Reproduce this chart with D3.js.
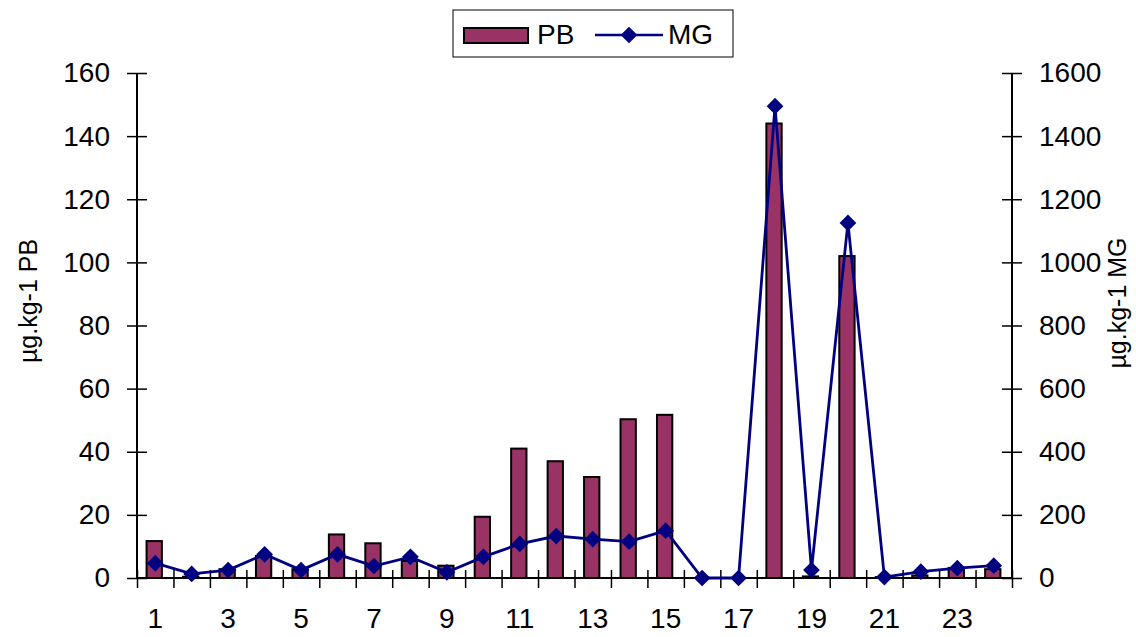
<!DOCTYPE html>
<html><head><meta charset="utf-8">
<script src="https://cdn.jsdelivr.net/npm/d3@7"></script>
<style>body{margin:0;background:#fff}svg{display:block}text{font-family:"Liberation Sans",Arial,sans-serif;fill:#000}</style>
</head><body>
<svg id="c" width="1136" height="637"></svg>
<script>
const categories = d3.range(1, 25);
const pbValues = [11.7, 0.4, 2.8, 7.0, 2.8, 13.8, 11.0, 5.4, 3.9, 19.4, 41.0, 37.0, 32.0, 50.3, 51.7, 0, 0, 144.0, 0.5, 102.0, 0.3, 0.8, 3.2, 2.8];
const mgValues = [47, 13, 25, 75, 25, 75, 38, 67, 18, 67, 108, 133, 123, 115, 150, 0, 0, 1495, 25, 1125, 3, 20, 31, 39];
const leftTicks = [0, 20, 40, 60, 80, 100, 120, 140, 160];
const rightTicks = [0, 200, 400, 600, 800, 1000, 1200, 1400, 1600];
const xLabelCats = [1, 3, 5, 7, 9, 11, 13, 15, 17, 19, 21, 23];
const seriesNames = ["PB", "MG"];
const axisTitles = ["µg.kg-1 PB", "µg.kg-1 MG"];

const L = 137, R = 1012, T = 73, B = 578;
const barColor = "#993366", lineColor = "#000080";
const svg = d3.select("#c");

const xBand = d3.scaleBand().domain(categories).range([L, R]);
const xEdge = d3.scaleLinear().domain([0, categories.length]).range([L, R]);
const yL = d3.scaleLinear().domain([0, 160]).range([B, T]);
const yR = d3.scaleLinear().domain([0, 1600]).range([B, T]);
const fs = 28;

// bars
const bw = xBand.bandwidth() * 0.42;
svg.append("g").selectAll("rect").data(pbValues).join("rect")
  .attr("x", (d, i) => xBand(categories[i]) + xBand.bandwidth() / 2 - bw / 2 - 1)
  .attr("y", d => yL(d))
  .attr("width", bw)
  .attr("height", d => B - yL(d))
  .attr("fill", barColor).attr("stroke", "#000").attr("stroke-width", 2);

// axes
function styleAxis(g) {
  g.select(".domain").remove();
  g.selectAll("line").attr("stroke", "#000").attr("stroke-width", 1.5);
  g.selectAll("text").attr("font-size", fs).attr("font-family", '"Liberation Sans",Arial,sans-serif').attr("fill", "#000");
}
const gl = svg.append("g").attr("transform", `translate(${L},0)`)
  .call(d3.axisLeft(yL).tickValues(leftTicks).tickFormat(d3.format("d")).tickSize(10).tickPadding(17)).call(styleAxis);
gl.selectAll(".tick line").attr("x1", 10);
const gr = svg.append("g").attr("transform", `translate(${R},0)`)
  .call(d3.axisRight(yR).tickValues(rightTicks).tickFormat(d3.format("d")).tickSize(10).tickPadding(17)).call(styleAxis);
gr.selectAll(".tick line").attr("x1", -10);
const gxt = svg.append("g").attr("transform", `translate(0,${B})`)
  .call(d3.axisBottom(xEdge).tickValues(d3.range(0, categories.length + 1)).tickFormat("").tickSize(10)).call(styleAxis);
gxt.selectAll(".tick line").attr("y1", -8);
const gxl = svg.append("g").attr("transform", `translate(0,${B})`)
  .call(d3.axisBottom(xBand).tickValues(xLabelCats).tickSize(0).tickPadding(30)).call(styleAxis);

svg.append("line").attr("x1", L).attr("x2", L).attr("y1", T).attr("y2", B).attr("stroke", "#000").attr("stroke-width", 2);
svg.append("line").attr("x1", R).attr("x2", R).attr("y1", T).attr("y2", B).attr("stroke", "#000").attr("stroke-width", 2);
svg.append("line").attr("x1", L).attr("x2", R).attr("y1", B).attr("y2", B).attr("stroke", "#000").attr("stroke-width", 2);

// line series
const cx = c => xBand(c) + xBand.bandwidth() / 2;
svg.append("path").datum(mgValues)
  .attr("d", d3.line().x((d, i) => cx(categories[i])).y(d => yR(d)))
  .attr("fill", "none").attr("stroke", lineColor).attr("stroke-width", 2.8);
const diamond = d3.symbol(d3.symbolSquare, 140);
svg.append("g").selectAll("path").data(mgValues).join("path")
  .attr("d", diamond)
  .attr("transform", (d, i) => `translate(${cx(categories[i])},${yR(d)}) rotate(45)`)
  .attr("fill", lineColor);

// axis titles
svg.append("text").attr("transform", "translate(37,301) rotate(-90)")
  .attr("text-anchor", "middle").attr("font-size", 25).text(axisTitles[0]);
svg.append("text").attr("transform", "translate(1126,303) rotate(-90)")
  .attr("text-anchor", "middle").attr("font-size", 25).text(axisTitles[1]);

// legend
const lg = svg.append("g");
lg.append("rect").attr("x", 453).attr("y", 10).attr("width", 280).attr("height", 47)
  .attr("fill", "#fff").attr("stroke", "#000").attr("stroke-width", 1);
lg.append("rect").attr("x", 464).attr("y", 28).attr("width", 64).attr("height", 15)
  .attr("fill", barColor).attr("stroke", "#000").attr("stroke-width", 2);
lg.append("text").attr("x", 537).attr("y", 44).attr("font-size", 28).text(seriesNames[0]);
lg.append("line").attr("x1", 595).attr("x2", 663).attr("y1", 35).attr("y2", 35)
  .attr("stroke", lineColor).attr("stroke-width", 2.5);
lg.append("path").attr("d", diamond).attr("transform", "translate(629,35) rotate(45)").attr("fill", lineColor);
lg.append("text").attr("x", 668).attr("y", 44).attr("font-size", 28).text(seriesNames[1]);
</script>
</body></html>
